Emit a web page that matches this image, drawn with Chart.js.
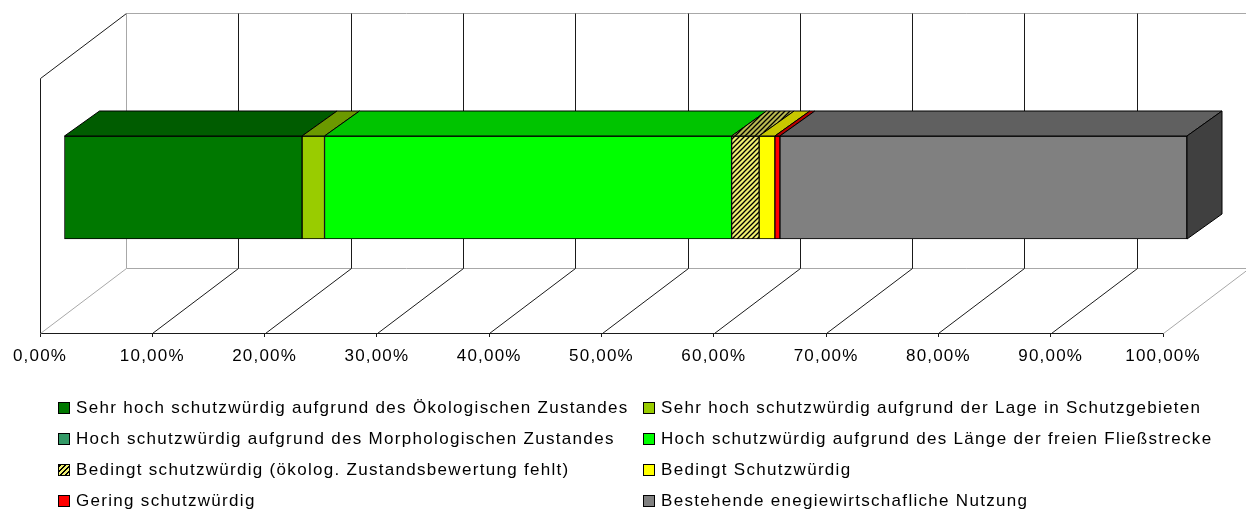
<!DOCTYPE html>
<html>
<head>
<meta charset="utf-8">
<script src="https://cdn.jsdelivr.net/npm/chart.js@4"></script>
<style>
  html, body { margin: 0; padding: 0; background: #fff; }
  #wrap { position: relative; width: 1246px; height: 512px; overflow: hidden; }
  #legend {
    position: absolute; left: 58px; top: 392px;
    display: grid; grid-template-columns: 585px 560px; grid-auto-rows: 31px;
    font-family: 'Liberation Sans', Arial, sans-serif; font-size: 17px; letter-spacing: 1.3px; color: #000;
  }
  #legend .item { display: flex; align-items: center; white-space: nowrap; }
  #legend .box { width: 10px; height: 10px; border: 1px solid #000; margin-right: 6px; flex: none; }
</style>
</head>
<body>
<div id="wrap">
  <canvas id="chart" width="1246" height="512"></canvas>
  <div id="legend"></div>
</div>
<script>
document.addEventListener('DOMContentLoaded', function() {

  // --- data ---
  const categories = [''];
  const seriesNames = [
    'Sehr hoch schutzwürdig aufgrund des Ökologischen Zustandes',
    'Sehr hoch schutzwürdig aufgrund der Lage in Schutzgebieten',
    'Hoch schutzwürdig aufgrund des Morphologischen Zustandes',
    'Hoch schutzwürdig aufgrund des Länge der freien Fließstrecke',
    'Bedingt schutzwürdig (ökolog. Zustandsbewertung fehlt)',
    'Bedingt Schutzwürdig',
    'Gering schutzwürdig',
    'Bestehende enegiewirtschafliche Nutzung'
  ];
  const seriesValues = [21.2, 2.0, 0, 36.25, 2.45, 1.4, 0.45, 36.25];
  const tickLabels = ['0,00%', '10,00%', '20,00%', '30,00%', '40,00%', '50,00%',
                      '60,00%', '70,00%', '80,00%', '90,00%', '100,00%'];

  // --- styles ---
  const frontColors = ['#007800', '#99cc00', '#339966', '#00ff00', 'HATCH', '#ffff00', '#ff0000', '#808080'];
  const topColors   = ['#005c00', '#6b9900', '#267350', '#00c400', 'HATCH_DARK', '#c8c800', '#b80000', '#606060'];
  const sideColor = '#404040';

  function hatch(bg) {
    const c = document.createElement('canvas');
    c.width = c.height = 5;
    const g = c.getContext('2d');
    g.fillStyle = bg;
    g.fillRect(0, 0, 5, 5);
    g.strokeStyle = '#000';
    g.lineWidth = 1.3;
    g.beginPath();
    g.moveTo(-1, 6); g.lineTo(6, -1);
    g.moveTo(-2, 2); g.lineTo(2, -2);
    g.moveTo(3, 7); g.lineTo(7, 3);
    g.stroke();
    return g.createPattern(c, 'repeat');
  }
  const fill = col => col === 'HATCH' ? hatch('#f0f070') : col === 'HATCH_DARK' ? hatch('#b8b850') : col;

  // 3D geometry
  const DX = 86, DY = 65;          // full floor depth
  const BX = 24, BY = 18;          // bar front offset into the floor
  const TX = 35, TY = 25;          // bar depth

  const walls = {
    id: 'walls',
    beforeDatasetsDraw(chart) {
      const { ctx, chartArea: a, scales: { x } } = chart;
      ctx.save();
      ctx.lineWidth = 1;
      const line = (x1, y1, x2, y2, c) => {
        ctx.strokeStyle = c;
        ctx.beginPath();
        ctx.moveTo(x1, y1);
        ctx.lineTo(x2, y2);
        ctx.stroke();
      };
      const light = '#a8a8a8', dark = '#1a1a1a';
      const L = Math.round(a.left) + 0.5, B = Math.round(a.bottom) + 0.5, T = Math.round(a.top) + 0.5;
      // back wall frame
      line(L + DX, T - DY, chart.width, T - DY, light);
      line(L + DX, B - DY, chart.width, B - DY, light);
      // left wall
      line(L, T, L, B, dark);
      line(L, T, L + DX, T - DY, dark);
      // grid lines on back wall and floor
      for (let v = 0; v <= 100; v += 10) {
        const px = Math.round(x.getPixelForValue(v)) + 0.5;
        const edge = v === 0 || v === 100;
        line(px + DX, T - DY, px + DX, B - DY, v === 0 ? light : dark);
        line(px, B, px + DX, B - DY, edge ? light : dark);
      }
      ctx.restore();
      ctx.save();
      ctx.translate(BX, -BY);
    },
    afterDatasetsDraw(chart) {
      const { ctx } = chart;
      let last = null;
      chart.data.datasets.forEach((ds, i) => {
        chart.getDatasetMeta(i).data.forEach(bar => {
          const w = bar.x - bar.base;
          if (w <= 0) return;
          const top = bar.y - bar.height / 2;
          ctx.beginPath();
          ctx.moveTo(bar.base, top);
          ctx.lineTo(bar.x, top);
          ctx.lineTo(bar.x + TX, top - TY);
          ctx.lineTo(bar.base + TX, top - TY);
          ctx.closePath();
          ctx.fillStyle = fill(topColors[i]);
          ctx.fill();
          ctx.strokeStyle = '#000';
          ctx.lineWidth = 1;
          ctx.stroke();
          last = bar;
        });
      });
      if (last) {
        const top = last.y - last.height / 2, bot = last.y + last.height / 2;
        ctx.beginPath();
        ctx.moveTo(last.x, top);
        ctx.lineTo(last.x + TX, top - TY);
        ctx.lineTo(last.x + TX, bot - TY);
        ctx.lineTo(last.x, bot);
        ctx.closePath();
        ctx.fillStyle = sideColor;
        ctx.fill();
        ctx.stroke();
      }
      ctx.restore();
    },
    beforeDraw(chart) {
      chart.ctx.letterSpacing = '1.2px';
    }
  };

  const chart = new Chart(document.getElementById('chart'), {
    type: 'bar',
    data: {
      labels: categories,
      datasets: seriesNames.map((name, i) => ({
        label: name,
        data: [seriesValues[i]],
        backgroundColor: fill(frontColors[i]),
        borderColor: '#000',
        borderWidth: 1,
        borderSkipped: false,
        barThickness: 103,
        clip: false
      }))
    },
    options: {
      indexAxis: 'y',
      responsive: false,
      animation: false,
      layout: { padding: { left: 40, right: 83, top: 78, bottom: 139 } },
      plugins: {
        legend: { display: false },
        tooltip: { enabled: false }
      },
      scales: {
        x: {
          stacked: true,
          min: 0,
          max: 100,
          ticks: {
            stepSize: 10,
            color: '#000',
            padding: 9,
            maxRotation: 0,
            autoSkip: false,
            font: { family: "'Liberation Sans', Arial, sans-serif", size: 17 },
            callback: (v, idx) => tickLabels[idx]
          },
          grid: { drawOnChartArea: false, drawTicks: true, tickLength: 4, color: '#1a1a1a' },
          border: { color: '#1a1a1a' },
          afterFit: s => { s.height = 40; }
        },
        y: {
          stacked: true,
          display: false
        }
      }
    },
    plugins: [walls]
  });

  // legend
  const legend = document.getElementById('legend');
  chart.data.datasets.forEach((ds, i) => {
    const item = document.createElement('div');
    item.className = 'item';
    const box = document.createElement('span');
    box.className = 'box';
    if (frontColors[i] === 'HATCH') {
      box.style.background = 'repeating-linear-gradient(-45deg, #f0f070 0 2px, #000 2px 3.5px)';
    } else {
      box.style.background = frontColors[i];
    }
    const label = document.createElement('span');
    label.textContent = ds.label;
    item.appendChild(box);
    item.appendChild(label);
    legend.appendChild(item);
  });

}); // end DOMContentLoaded
</script>
</body>
</html>
